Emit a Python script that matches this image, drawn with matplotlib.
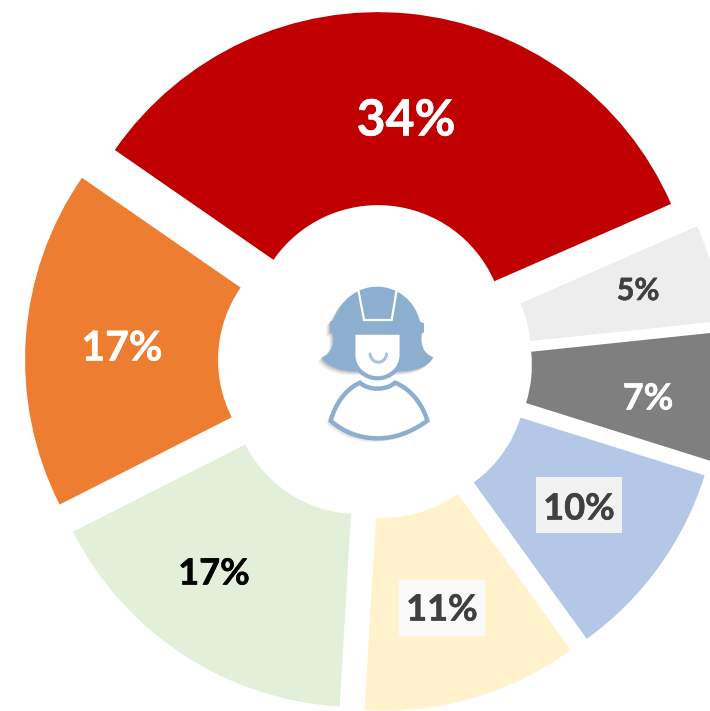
import matplotlib
matplotlib.use("Agg")
import matplotlib.pyplot as plt
import matplotlib.patheffects as pe
from matplotlib.path import Path
from matplotlib.patches import PathPatch, Rectangle

plt.rcParams['font.family'] = ['Lato', 'DejaVu Sans']

labels = ['34%', '5%', '7%', '10%', '11%', '17%', '17%']
# slightly finer than the printed labels, read from the slice edges
values = [33.8, 4.9, 6.5, 10.2, 10.9, 16.6, 17.1]
colors = ['#C00000', '#EDEDED', '#7F7F7F', '#B4C7E7', '#FFF2CC', '#E2F0D9', '#ED7D31']
text_colors = ['white', '#404040', 'white', '#404040', '#404040', 'black', 'white']
text_sizes = [36, 22, 26, 26, 26, 26, 29.5]
text_boxes = [None, None, None, '#F2F2F2', '#FAFAFA', None, None]

W, H = 710, 711
cx, cy = 375, H - 362
radius = 320
hole = 127
gap = 30

# pixel positions of the labels
label_xy = [(406, 121), (638, 291), (648, 399), (579, 509), (442, 610), (214, 574), (122, 349)]
box_xy = [None, None, None, (579, 505), (442, 608), None, None]

fig = plt.figure(figsize=(W / 100, H / 100), dpi=100)
ax = fig.add_axes([0, 0, 1, 1])
ax.pie(values, colors=colors, startangle=145.3, counterclock=False, radius=radius,
       center=(cx, cy), explode=[gap] * len(values),
       wedgeprops={'width': radius - hole, 'linewidth': 0})
ax.set_xlim(0, W)
ax.set_ylim(0, H)
ax.set_aspect('equal')
ax.axis('off')

for i, lab in enumerate(labels):
    x, y = label_xy[i]
    if text_boxes[i]:
        bx, by = box_xy[i]
        ax.add_patch(Rectangle((bx - 43, H - by - 28), 86, 56, fc=text_boxes[i], ec='none', zorder=3))
    ax.text(x, H - y, lab, color=text_colors[i], fontsize=text_sizes[i], fontweight='bold',
            ha='center', va='center', zorder=4,
            path_effects=[pe.withStroke(linewidth=0.4, foreground=text_colors[i])])


# icon coordinates are taken from a 3x crop starting at (300, 270)
def z(pts):
    return [(300 + a / 3, H - (270 + b / 3)) for a, b in pts]


def shape(pts, codes, **kw):
    return ax.add_patch(PathPatch(Path(z(pts), codes), **kw))


M, L, C, Z = Path.MOVETO, Path.LINETO, Path.CURVE4, Path.CLOSEPOLY
icon_blue = '#8CAECF'

helmet = [(90, 188), (90, 155), (100, 150), (125, 85), (175, 50), (232, 50), (290, 50), (345, 90),
          (360, 155), (372, 160), (372, 188), (372, 188), (90, 188)]
helmet_c = [M, L, L, C, C, C, C, C, C, L, L, L, Z]
hair = [(98, 186), (105, 225), (95, 250), (65, 262), (80, 292), (130, 304), (165, 304), (300, 304),
        (340, 304), (385, 292), (400, 262), (370, 250), (360, 225), (366, 186), (98, 186)]
hair_c = [M, C, C, C, C, C, C, L, C, C, C, C, C, C, Z]
face = [(160, 188), (305, 188), (305, 255), (305, 295), (270, 325), (233, 325), (195, 325), (160, 295),
        (160, 255), (160, 188)]
face_c = [M, L, L, C, C, C, C, C, C, Z]
body = [(180, 338), (205, 362), (260, 362), (285, 338), (335, 358), (368, 405), (382, 452), (330, 490),
        (280, 505), (233, 505), (185, 505), (135, 490), (92, 452), (105, 405), (135, 358), (180, 338),
        (180, 338)]
body_c = [M, C, C, C, C, C, C, C, C, C, C, C, C, C, C, C, Z]
smile = [(210, 252), (215, 285), (255, 285), (260, 252)]
smile_c = [M, C, C, C]
visor = [(175, 60), (192, 150), (275, 150), (290, 60)]
visor_c = [M, L, L, L]

# soft shadow, lower left of the figure
for dx, dy, a in [(-12, 12, 0.05), (-9, 9, 0.07), (-6, 6, 0.10), (-3, 3, 0.12)]:
    for pts, codes in [(hair, hair_c), (body, body_c), (helmet, helmet_c)]:
        moved = [(p + dx, q + dy) for p, q in pts]
        shape(moved, codes, fc='#303030', ec='none', alpha=a, zorder=5)

shape(hair, hair_c, fc=icon_blue, ec='none', zorder=6)
shape(helmet, helmet_c, fc=icon_blue, ec='none', zorder=7)
shape(visor, visor_c, fc='none', ec='white', lw=1.6, zorder=8)
shape(face, face_c, fc='white', ec=icon_blue, lw=3, zorder=8)
shape(smile, smile_c, fc='none', ec='#A9C3DC', lw=2.2, capstyle='round', zorder=9)
shape(body, body_c, fc='white', ec=icon_blue, lw=3.2, zorder=8)

fig.savefig('out.png', dpi=100, facecolor='white')
